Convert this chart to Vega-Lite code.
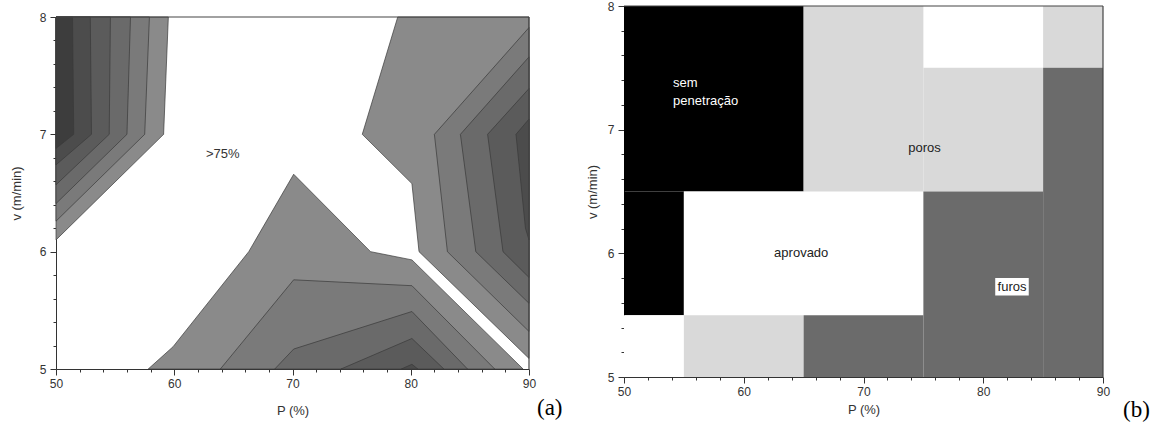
{
  "$schema": "https://vega.github.io/schema/vega-lite/v6.json",
  "autosize": {"type": "pad"},
  "padding": {"left": 10, "top": 0, "right": 0, "bottom": 0},
  "background": "white",
  "spacing": 95,
  "bounds": "flush",
  "resolve": {"scale": {"fill": "independent", "x": "independent", "y": "independent"}},
  "config": {
    "view": {"stroke": null},
    "font": "Liberation Sans",
    "axis": {
      "labelFont": "Liberation Sans", "labelFontSize": 12, "labelColor": "#333", "labelFlush": false,
      "titleFont": "Liberation Sans", "titleFontSize": 13, "titleFontWeight": "normal", "titleColor": "#333",
      "domainColor": "#333", "tickColor": "#333", "grid": false
    }
  },
  "hconcat": [
    {
      "width": 473,
      "height": 371,
      "resolve": {"axis": {"x": "independent", "y": "independent"}},
      "layer": [
        {
          "data": {"values": [
            {"poly": "1a", "lvl": 1, "i": 0, "x": 50, "y": 8},
            {"poly": "1a", "lvl": 1, "i": 1, "x": 59.5, "y": 8},
            {"poly": "1a", "lvl": 1, "i": 2, "x": 59.1, "y": 7.0},
            {"poly": "1a", "lvl": 1, "i": 3, "x": 50, "y": 6.1},
            {"poly": "1b", "lvl": 1, "i": 0, "x": 78.9, "y": 8},
            {"poly": "1b", "lvl": 1, "i": 1, "x": 90, "y": 8},
            {"poly": "1b", "lvl": 1, "i": 2, "x": 90, "y": 5.09},
            {"poly": "1b", "lvl": 1, "i": 3, "x": 80.7, "y": 6.0},
            {"poly": "1b", "lvl": 1, "i": 4, "x": 80.1, "y": 6.58},
            {"poly": "1b", "lvl": 1, "i": 5, "x": 75.9, "y": 7.0},
            {"poly": "1c", "lvl": 1, "i": 0, "x": 57.8, "y": 5},
            {"poly": "1c", "lvl": 1, "i": 1, "x": 59.9, "y": 5.19},
            {"poly": "1c", "lvl": 1, "i": 2, "x": 66.3, "y": 6.0},
            {"poly": "1c", "lvl": 1, "i": 3, "x": 70.1, "y": 6.66},
            {"poly": "1c", "lvl": 1, "i": 4, "x": 76.6, "y": 6.0},
            {"poly": "1c", "lvl": 1, "i": 5, "x": 80.1, "y": 5.93},
            {"poly": "1c", "lvl": 1, "i": 6, "x": 89.5, "y": 5.0},
            {"poly": "2a", "lvl": 2, "i": 0, "x": 50, "y": 8},
            {"poly": "2a", "lvl": 2, "i": 1, "x": 57.9, "y": 8},
            {"poly": "2a", "lvl": 2, "i": 2, "x": 57.5, "y": 7.0},
            {"poly": "2a", "lvl": 2, "i": 3, "x": 50, "y": 6.26},
            {"poly": "2b", "lvl": 2, "i": 0, "x": 90, "y": 7.91},
            {"poly": "2b", "lvl": 2, "i": 1, "x": 82.0, "y": 7.0},
            {"poly": "2b", "lvl": 2, "i": 2, "x": 83.1, "y": 6.0},
            {"poly": "2b", "lvl": 2, "i": 3, "x": 90, "y": 5.32},
            {"poly": "2c", "lvl": 2, "i": 0, "x": 63.9, "y": 5},
            {"poly": "2c", "lvl": 2, "i": 1, "x": 70.1, "y": 5.76},
            {"poly": "2c", "lvl": 2, "i": 2, "x": 80.1, "y": 5.71},
            {"poly": "2c", "lvl": 2, "i": 3, "x": 87.1, "y": 5},
            {"poly": "3a", "lvl": 3, "i": 0, "x": 50, "y": 8},
            {"poly": "3a", "lvl": 3, "i": 1, "x": 56.3, "y": 8},
            {"poly": "3a", "lvl": 3, "i": 2, "x": 56.0, "y": 7.0},
            {"poly": "3a", "lvl": 3, "i": 3, "x": 50, "y": 6.41},
            {"poly": "3b", "lvl": 3, "i": 0, "x": 90, "y": 7.66},
            {"poly": "3b", "lvl": 3, "i": 1, "x": 84.2, "y": 7.0},
            {"poly": "3b", "lvl": 3, "i": 2, "x": 85.5, "y": 6.0},
            {"poly": "3b", "lvl": 3, "i": 3, "x": 90, "y": 5.56},
            {"poly": "3c", "lvl": 3, "i": 0, "x": 68.5, "y": 5},
            {"poly": "3c", "lvl": 3, "i": 1, "x": 70.1, "y": 5.17},
            {"poly": "3c", "lvl": 3, "i": 2, "x": 80.1, "y": 5.49},
            {"poly": "3c", "lvl": 3, "i": 3, "x": 84.8, "y": 5},
            {"poly": "4a", "lvl": 4, "i": 0, "x": 50, "y": 8},
            {"poly": "4a", "lvl": 4, "i": 1, "x": 54.6, "y": 8},
            {"poly": "4a", "lvl": 4, "i": 2, "x": 54.5, "y": 7.0},
            {"poly": "4a", "lvl": 4, "i": 3, "x": 50, "y": 6.57},
            {"poly": "4b", "lvl": 4, "i": 0, "x": 90, "y": 7.39},
            {"poly": "4b", "lvl": 4, "i": 1, "x": 86.5, "y": 7.0},
            {"poly": "4b", "lvl": 4, "i": 2, "x": 87.8, "y": 6.0},
            {"poly": "4b", "lvl": 4, "i": 3, "x": 90, "y": 5.78},
            {"poly": "4c", "lvl": 4, "i": 0, "x": 74.1, "y": 5},
            {"poly": "4c", "lvl": 4, "i": 1, "x": 80.1, "y": 5.26},
            {"poly": "4c", "lvl": 4, "i": 2, "x": 82.8, "y": 5},
            {"poly": "5a", "lvl": 5, "i": 0, "x": 50, "y": 8},
            {"poly": "5a", "lvl": 5, "i": 1, "x": 52.9, "y": 8},
            {"poly": "5a", "lvl": 5, "i": 2, "x": 53.0, "y": 7.0},
            {"poly": "5a", "lvl": 5, "i": 3, "x": 50, "y": 6.74},
            {"poly": "5b", "lvl": 5, "i": 0, "x": 90, "y": 7.13},
            {"poly": "5b", "lvl": 5, "i": 1, "x": 88.9, "y": 7.0},
            {"poly": "5b", "lvl": 5, "i": 2, "x": 89.7, "y": 6.2},
            {"poly": "5b", "lvl": 5, "i": 3, "x": 90, "y": 6.1},
            {"poly": "5c", "lvl": 5, "i": 0, "x": 79.2, "y": 5},
            {"poly": "5c", "lvl": 5, "i": 1, "x": 80.1, "y": 5.04},
            {"poly": "5c", "lvl": 5, "i": 2, "x": 80.6, "y": 5},
            {"poly": "6a", "lvl": 6, "i": 0, "x": 50, "y": 8},
            {"poly": "6a", "lvl": 6, "i": 1, "x": 51.4, "y": 8},
            {"poly": "6a", "lvl": 6, "i": 2, "x": 51.5, "y": 7.0},
            {"poly": "6a", "lvl": 6, "i": 3, "x": 50, "y": 6.88}
          ]},
          "mark": {"type": "line", "interpolate": "linear-closed", "stroke": "#3a3a3a", "strokeWidth": 0.7},
          "encoding": {
            "x": {
              "field": "x", "type": "quantitative",
              "scale": {"domain": [50, 90], "nice": false, "zero": false},
              "axis": {
                "title": "P (%)", "format": "d", "offset": -8, "orient": "bottom",
                "values": [50, 60, 70, 80, 90], "tickSize": 6,
                "labelPadding": 3, "titlePadding": 15
              }
            },
            "y": {
              "field": "y", "type": "quantitative",
              "scale": {"domain": [5, 8], "nice": false, "zero": false, "range": [363, 11]},
              "axis": {
                "title": "v (m/min)", "format": "d", "orient": "left",
                "values": [5, 6, 7, 8], "tickSize": 6,
                "labelPadding": 4, "titlePadding": 16
              }
            },
            "detail": {"field": "poly", "type": "nominal"},
            "order": {"field": "i", "type": "quantitative"},
            "fill": {
              "field": "lvl", "type": "ordinal",
              "scale": {"domain": [1, 2, 3, 4, 5, 6], "range": ["#8a8a8a", "#7a7a7a", "#6a6a6a", "#5b5b5b", "#4c4c4c", "#3d3d3d"]},
              "legend": null
            }
          }
        },
        {
          "data": {"values": [
            {"x": 50, "x2": 90, "y": 8, "y2": 8},
            {"x": 90, "x2": 90, "y": 5, "y2": 8}
          ]},
          "mark": {"type": "rule", "color": "#444", "strokeWidth": 1.2},
          "encoding": {
            "x": {
              "field": "x", "type": "quantitative",
              "axis": {
                "orient": "bottom", "offset": -8, "title": null, "labels": false, "domain": false,
                "values": [52, 54, 56, 58, 62, 64, 66, 68, 72, 74, 76, 78, 82, 84, 86, 88], "tickSize": 3
              }
            },
            "x2": {"field": "x2"},
            "y": {
              "field": "y", "type": "quantitative",
              "axis": {
                "orient": "left", "title": null, "labels": false, "domain": false,
                "values": [5.2, 5.4, 5.6, 5.8, 6.2, 6.4, 6.6, 6.8, 7.2, 7.4, 7.6, 7.8], "tickSize": 3
              }
            },
            "y2": {"field": "y2"}
          }
        },
        {
          "data": {"values": [{"label": ">75%", "x": 64.1, "y": 6.83}]},
          "mark": {"type": "text", "fontSize": 13, "color": "#333", "font": "Liberation Sans"},
          "encoding": {
            "x": {"field": "x", "type": "quantitative", "axis": null},
            "y": {"field": "y", "type": "quantitative", "axis": null},
            "text": {"field": "label"}
          }
        },
        {
          "data": {"values": [{"label": "(a)", "x": 90, "y": 5}]},
          "mark": {"type": "text", "fontSize": 23, "color": "#000", "font": "Liberation Serif", "align": "left", "baseline": "middle", "dx": 8, "dy": 39},
          "encoding": {
            "x": {"field": "x", "type": "quantitative", "axis": null},
            "y": {"field": "y", "type": "quantitative", "axis": null},
            "text": {"field": "label"}
          }
        }
      ]
    },
    {
      "width": 479,
      "height": 371,
      "resolve": {"axis": {"x": "independent", "y": "independent"}},
      "layer": [
        {
          "data": {"values": [
            {"x": 50, "x2": 65, "y": 6.5, "y2": 8, "cat": "preto"},
            {"x": 50, "x2": 55, "y": 5.5, "y2": 6.5, "cat": "preto"},
            {"x": 50, "x2": 55, "y": 5, "y2": 5.5, "cat": "branco"},
            {"x": 55, "x2": 75, "y": 5.5, "y2": 6.5, "cat": "branco"},
            {"x": 75, "x2": 85, "y": 7.5, "y2": 8, "cat": "branco"},
            {"x": 55, "x2": 65, "y": 5, "y2": 5.5, "cat": "claro"},
            {"x": 65, "x2": 75, "y": 6.5, "y2": 8, "cat": "claro"},
            {"x": 75, "x2": 85, "y": 6.5, "y2": 7.5, "cat": "claro"},
            {"x": 85, "x2": 90, "y": 7.5, "y2": 8, "cat": "claro"},
            {"x": 65, "x2": 75, "y": 5, "y2": 5.5, "cat": "escuro"},
            {"x": 75, "x2": 85, "y": 5, "y2": 6.5, "cat": "escuro"},
            {"x": 85, "x2": 90, "y": 5, "y2": 7.5, "cat": "escuro"}
          ]},
          "mark": {"type": "rect"},
          "encoding": {
            "x": {
              "field": "x", "type": "quantitative",
              "scale": {"domain": [50, 90], "nice": false, "zero": false},
              "axis": {
                "title": "P (%)", "format": "d", "orient": "bottom",
                "values": [50, 60, 70, 80, 90], "tickSize": 6,
                "labelPadding": 3, "titlePadding": 6
              }
            },
            "x2": {"field": "x2"},
            "y": {
              "field": "y", "type": "quantitative",
              "scale": {"domain": [5, 8], "nice": false, "zero": false},
              "axis": {
                "title": "v (m/min)", "format": "d", "orient": "left",
                "values": [5, 6, 7, 8], "tickSize": 6,
                "labelPadding": 4, "titlePadding": 8
              }
            },
            "y2": {"field": "y2"},
            "fill": {
              "field": "cat", "type": "nominal",
              "scale": {"domain": ["preto", "branco", "claro", "escuro"], "range": ["#000000", "#ffffff", "#d9d9d9", "#6b6b6b"]},
              "legend": null
            }
          }
        },
        {
          "data": {"values": [{"x": 81.0, "x2": 83.8, "y": 5.66, "y2": 5.8}]},
          "mark": {"type": "rect", "color": "#ffffff"},
          "encoding": {
            "x": {"field": "x", "type": "quantitative", "axis": null},
            "x2": {"field": "x2"},
            "y": {"field": "y", "type": "quantitative", "axis": null},
            "y2": {"field": "y2"}
          }
        },
        {
          "data": {"values": [
            {"label": "aprovado", "x": 64.8, "y": 6.0},
            {"label": "poros", "x": 75.1, "y": 6.85},
            {"label": "furos", "x": 82.4, "y": 5.73}
          ]},
          "mark": {"type": "text", "fontSize": 13, "color": "#222", "font": "Liberation Sans"},
          "encoding": {
            "x": {"field": "x", "type": "quantitative", "axis": null},
            "y": {"field": "y", "type": "quantitative", "axis": null},
            "text": {"field": "label"}
          }
        },
        {
          "data": {"values": [{"label": "sem\npenetração", "x": 54.1, "y": 7.38}]},
          "mark": {"type": "text", "fontSize": 13, "color": "#ffffff", "font": "Liberation Sans", "align": "left", "lineBreak": "\n", "lineHeight": 18},
          "encoding": {
            "x": {"field": "x", "type": "quantitative", "axis": null},
            "y": {"field": "y", "type": "quantitative", "axis": null},
            "text": {"field": "label"}
          }
        },
        {
          "data": {"values": [
            {"x": 50, "x2": 90, "y": 8, "y2": 8},
            {"x": 90, "x2": 90, "y": 5, "y2": 8}
          ]},
          "mark": {"type": "rule", "color": "#444", "strokeWidth": 1.2},
          "encoding": {
            "x": {
              "field": "x", "type": "quantitative",
              "axis": {
                "orient": "bottom", "title": null, "labels": false, "domain": false,
                "values": [52, 54, 56, 58, 62, 64, 66, 68, 72, 74, 76, 78, 82, 84, 86, 88], "tickSize": 3
              }
            },
            "x2": {"field": "x2"},
            "y": {
              "field": "y", "type": "quantitative",
              "axis": {
                "orient": "left", "title": null, "labels": false, "domain": false,
                "values": [5.2, 5.4, 5.6, 5.8, 6.2, 6.4, 6.6, 6.8, 7.2, 7.4, 7.6, 7.8], "tickSize": 3
              }
            },
            "y2": {"field": "y2"}
          }
        },
        {
          "data": {"values": [{"label": "(b)", "x": 90, "y": 5}]},
          "mark": {"type": "text", "fontSize": 23, "color": "#000", "font": "Liberation Serif", "align": "left", "baseline": "middle", "dx": 20, "dy": 33},
          "encoding": {
            "x": {"field": "x", "type": "quantitative", "axis": null},
            "y": {"field": "y", "type": "quantitative", "axis": null},
            "text": {"field": "label"}
          }
        }
      ]
    }
  ]
}
